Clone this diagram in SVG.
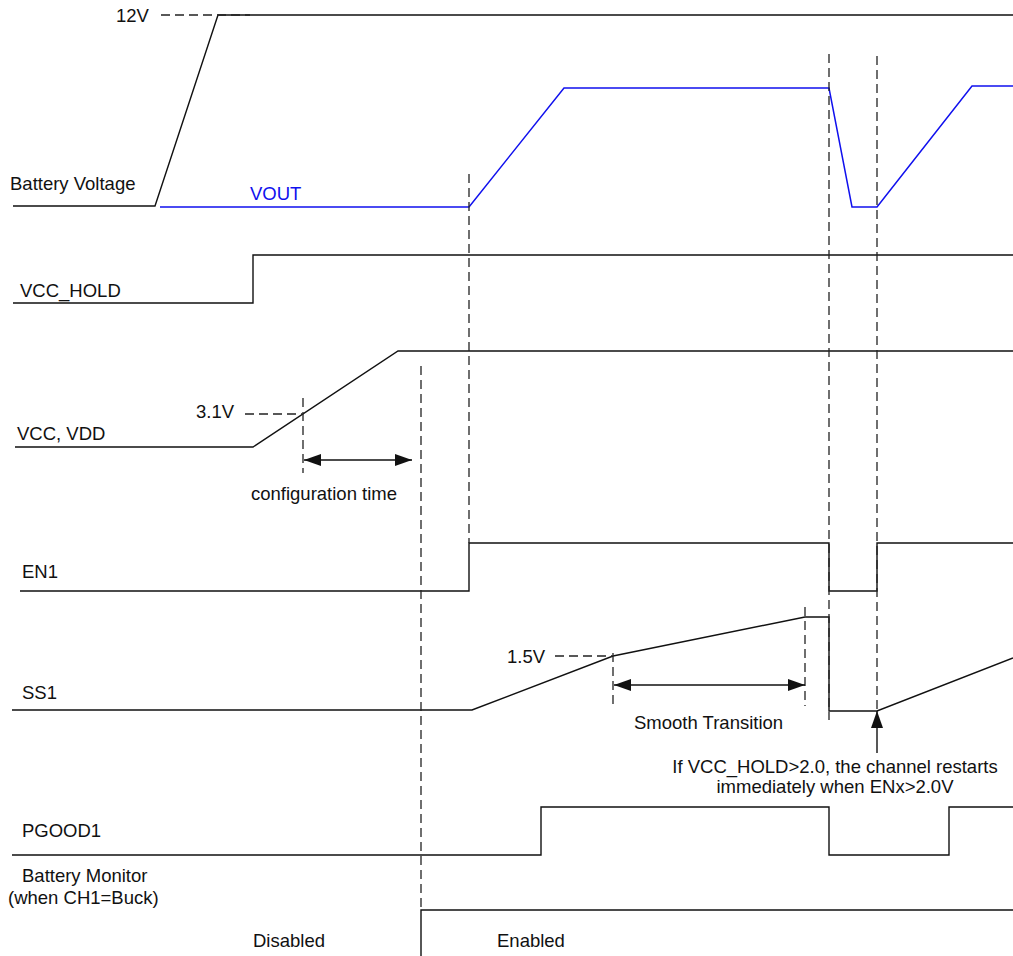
<svg xmlns="http://www.w3.org/2000/svg" width="1013" height="956" viewBox="0 0 1013 956">
<style>
.sig{fill:none;stroke:#111;stroke-width:1.4}
.blue{fill:none;stroke:#1010ee;stroke-width:1.5}
.dash{fill:none;stroke:#222;stroke-width:1.3;stroke-dasharray:9,5}
.arr{fill:none;stroke:#111;stroke-width:1.4}
text{font-family:"Liberation Sans",Arial,sans-serif;font-size:18.5px;fill:#111}
.bt{fill:#1010ee}
</style>
<defs>
<marker id="ah" viewBox="0 0 17 12" refX="17" refY="6" markerWidth="17" markerHeight="12" markerUnits="userSpaceOnUse" orient="auto-start-reverse">
<path d="M0,0 L17,6 L0,12 z" fill="#111"/>
</marker>
</defs>
<rect width="1013" height="956" fill="#fff"/>

<g id="battery-voltage">
<path class="sig" d="M13,206 L155,206 L218,15 L1013,15"/>
<text x="10" y="190">Battery Voltage</text>
<text x="116" y="22">12V</text>
</g>

<g id="vout">
<path class="blue" d="M160,207 L469,207 L564,88 L829,88 L852,207 L877,207 L972,86 L1013,86"/>
<text class="bt" x="250" y="200">VOUT</text>
</g>

<g id="vcc-hold">
<path class="sig" d="M13,303 L253,303 L253,255 L1013,255"/>
<text x="20" y="297">VCC_HOLD</text>
</g>

<g id="vcc-vdd">
<path class="sig" d="M15,447 L253,447 L398,351 L1013,351"/>
<text x="17" y="440">VCC, VDD</text>
<text x="196" y="418">3.1V</text>
<text x="251" y="500">configuration time</text>
</g>

<g id="en1">
<path class="sig" d="M20,591 L469,591 L469,543 L829,543 L829,591 L877,591 L877,543 L1013,543"/>
<text x="22" y="578">EN1</text>
</g>

<g id="ss1">
<path class="sig" d="M12,710 L472,710 L613,656 L805,617 L829,617 L829,711 L877,711 L1013,658"/>
<text x="22" y="699">SS1</text>
<text x="507" y="663">1.5V</text>
<text x="634" y="729">Smooth Transition</text>
</g>

<g id="note">
<text x="835" y="773" text-anchor="middle">If VCC_HOLD&gt;2.0, the channel restarts</text>
<text x="835" y="793" text-anchor="middle">immediately when ENx&gt;2.0V</text>
</g>

<g id="pgood1">
<path class="sig" d="M12,855 L541,855 L541,807 L829,807 L829,855 L949,855 L949,807 L1013,807"/>
<text x="22" y="837">PGOOD1</text>
</g>

<g id="battery-monitor">
<path class="sig" d="M421,956 L421,910 L1013,910"/>
<text x="22" y="882">Battery Monitor</text>
<text x="8" y="904">(when CH1=Buck)</text>
<text x="253" y="947">Disabled</text>
<text x="497" y="947">Enabled</text>
</g>

<g id="connectors">
<path class="dash" d="M161,15 L250,15"/>
<path class="dash" d="M245,414 L302,414"/>
<path class="dash" d="M555,656 L612,656"/>
<path class="dash" d="M469,174 L469,543"/>
<path class="dash" d="M421,366 L421,910"/>
<path class="dash" d="M303,398 L303,473"/>
<path class="dash" d="M613,653 L613,704"/>
<path class="dash" d="M805,607 L805,706"/>
<path class="dash" d="M829,54 L829,720"/>
<path class="dash" d="M877,56 L877,711"/>
<path class="arr" d="M304,460 L412,460" marker-start="url(#ah)" marker-end="url(#ah)"/>
<path class="arr" d="M614,685 L805,685" marker-start="url(#ah)" marker-end="url(#ah)"/>
<path class="arr" d="M877,753 L877,711" marker-end="url(#ah)"/>
</g>
</svg>
